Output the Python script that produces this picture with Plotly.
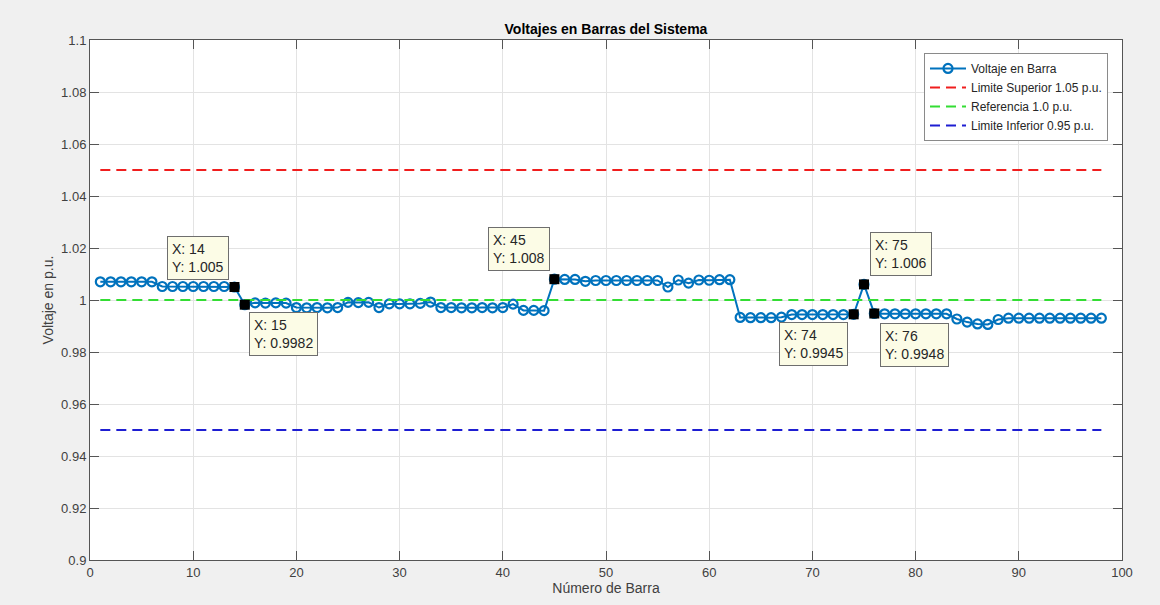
import plotly.graph_objects as go

# ---- data ----
barras = list(range(1, 99))
voltajes = [
    1.007, 1.007, 1.007, 1.007, 1.007, 1.007,
    1.0052, 1.0052, 1.0052, 1.0052, 1.0052, 1.0052, 1.0052,
    1.005,
    0.9982,
    0.9989, 0.9988, 0.9989, 0.9988,
    0.9971, 0.997, 0.9971, 0.997, 0.9971,
    0.9991, 0.999, 0.9991,
    0.9971,
    0.9985, 0.9985, 0.9985, 0.9987, 0.9992,
    0.9971,
    0.9971, 0.997, 0.997, 0.9971, 0.997, 0.9971,
    0.9984,
    0.996, 0.996, 0.9959,
    1.008,
    1.0079, 1.0079, 1.0072,
    1.0075, 1.0075, 1.0075, 1.0075, 1.0075, 1.0075, 1.0075,
    1.005,
    1.0077, 1.0065, 1.0077, 1.0076, 1.0078, 1.0078,
    0.9933, 0.9932, 0.9932, 0.9932, 0.9934,
    0.9944, 0.9944, 0.9944, 0.9944, 0.9944, 0.9944,
    0.9945, 1.006, 0.9948,
    0.9947, 0.9947, 0.9947, 0.9947, 0.9947, 0.9947, 0.9947,
    0.9927, 0.9915, 0.9908, 0.9906, 0.9925,
    0.993, 0.993, 0.993, 0.993, 0.993, 0.993, 0.993, 0.993, 0.993, 0.993,
]
limite_superior = 1.05
referencia = 1.0
limite_inferior = 0.95
datatip_barras = [14, 15, 45, 74, 75, 76]
y_tickvals = [0.9, 0.92, 0.94, 0.96, 0.98, 1.0, 1.02, 1.04, 1.06, 1.08, 1.1]
y_ticktext = ["0.9", "0.92", "0.94", "0.96", "0.98", "1", "1.02", "1.04", "1.06", "1.08", "1.1"]
x_tickvals = [0, 10, 20, 30, 40, 50, 60, 70, 80, 90, 100]

assert len(voltajes) == len(barras)

FONT = "Liberation Sans, Arial, Helvetica, sans-serif"
fig = go.Figure()

fig.add_trace(go.Scatter(
    x=barras, y=voltajes, mode="lines+markers", name="Voltaje en Barra",
    line=dict(color="#0072BD", width=2),
    marker=dict(symbol="circle-open", size=9, color="#0072BD", line=dict(width=2.2)),
))
for val, nombre, col in [
    (limite_superior, "Limite Superior 1.05 p.u.", "#f01e1e"),
    (referencia, "Referencia 1.0 p.u.", "#33dd33"),
    (limite_inferior, "Limite Inferior 0.95 p.u.", "#1e1ed2"),
]:
    fig.add_trace(go.Scatter(
        x=[barras[0], barras[-1]], y=[val, val], mode="lines", name=nombre,
        line=dict(color=col, width=2, dash="10px,6px"),
    ))

dt_y = [voltajes[b - 1] for b in datatip_barras]
fig.add_trace(go.Scatter(
    x=datatip_barras, y=dt_y, mode="markers", showlegend=False,
    marker=dict(symbol="square", size=10, color="black"),
    hoverinfo="skip",
))

# datatip placement: (xanchor, yanchor, xshift, yshift)
placements = {
    14: ("right", "bottom", -5, 7),
    15: ("left", "top", 4, -7),
    45: ("right", "bottom", -4, 8),
    74: ("right", "top", -6, -8),
    75: ("left", "bottom", 6, 8),
    76: ("left", "top", 6, -9),
}
for b, v in zip(datatip_barras, dt_y):
    xa, ya, xs, ys = placements[b]
    fig.add_annotation(
        x=b, y=v, xref="x", yref="y", showarrow=False,
        text=f"X: {b}<br>Y: {v:.4g}", align="left",
        xanchor=xa, yanchor=ya, xshift=xs, yshift=ys,
        font=dict(family=FONT, size=14, color="#262626"),
        bgcolor="#fcfce6", bordercolor="#6e6e6e", borderwidth=1, borderpad=4,
    )

fig.update_layout(
    width=1160, height=605,
    margin=dict(l=90, r=38, t=40, b=43),
    paper_bgcolor="#f0f0f0", plot_bgcolor="white",
    font=dict(family=FONT, size=13, color="#404040"),
    title=dict(text="<b>Voltajes en Barras del Sistema</b>", x=0.5224, xanchor="center",
               y=1 - 29 / 605, yanchor="middle", yref="container",
               font=dict(family=FONT, size=14, color="black")),
    legend=dict(x=1 - 14 / 1032, y=1 - 13 / 522, xanchor="right", yanchor="top",
                bgcolor="white", bordercolor="#8a8a8a", borderwidth=1,
                font=dict(family=FONT, size=12, color="#262626"),
                tracegroupgap=0, itemwidth=36),
    showlegend=True,
)
fig.update_xaxes(
    range=[0, 100], tickvals=x_tickvals, showgrid=True, gridcolor="#e3e3e3",
    zeroline=False, showline=True, linecolor="#555555", linewidth=1, mirror="allticks",
    ticks="inside", ticklen=9, tickcolor="#555555",
    title=dict(text="Número de Barra", standoff=4, font=dict(family=FONT, size=14, color="#404040")),
)
fig.update_yaxes(
    range=[0.9, 1.1], tickvals=y_tickvals, ticktext=y_ticktext, showgrid=True,
    gridcolor="#e3e3e3", zeroline=False, showline=True, linecolor="#555555", linewidth=1,
    mirror="allticks", ticks="inside", ticklen=9, tickcolor="#555555",
    title=dict(text="Voltaje en p.u.", standoff=4, font=dict(family=FONT, size=14, color="#404040")),
)

fig.write_html("out.html")
